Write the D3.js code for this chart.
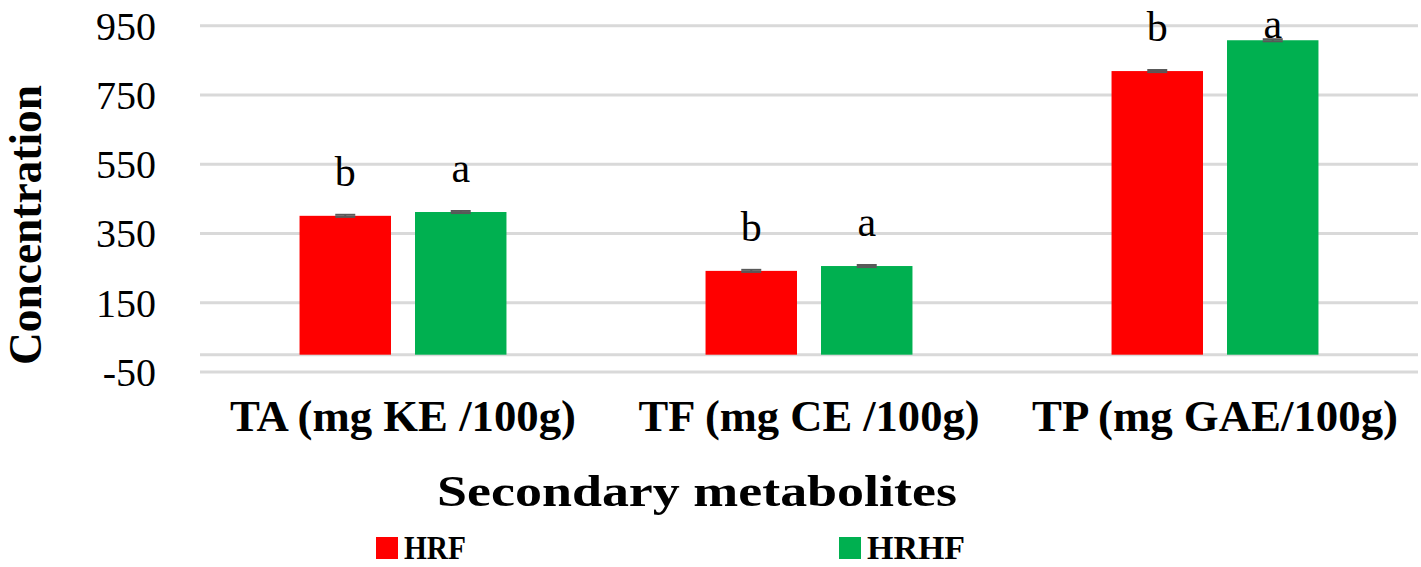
<!DOCTYPE html>
<html>
<head>
<meta charset="utf-8">
<script src="https://cdn.jsdelivr.net/npm/d3@7"></script>
<style>
  body { margin: 0; background: #fff; }
  text { font-family: "Liberation Serif", "Times New Roman", serif; fill: #000; }
</style>
</head>
<body>
<svg width="1421" height="567"></svg>
<script>
const categories = ["TA (mg KE /100g)", "TF (mg CE /100g)", "TP (mg GAE/100g)"]
const series = ["HRF", "HRHF"]
const hrf = [401, 242, 819]
const hrhf = [412, 256, 908]
const hrfErr = [3, 3, 3]
const hrhfErr = [3, 3, 3]
const hrfLetters = ["b", "b", "b"]
const hrhfLetters = ["a", "a", "a"]
const yTicks = [-50, 150, 350, 550, 750, 950]
const colors = ["#FF0000", "#00B050"]

const svg = d3.select("svg")
const width = +svg.attr("width")
const height = +svg.attr("height")

const plotLeft = 200, plotRight = 1418, plotTop = 25.7, plotBottom = 372

// rows for the bars, built from the arrays above
const rows = categories.map((c, i) => ({
  cat: c,
  vals: [
    { s: series[0], v: hrf[i], e: hrfErr[i], l: hrfLetters[i] },
    { s: series[1], v: hrhf[i], e: hrhfErr[i], l: hrhfLetters[i] }
  ]
}))

const y = d3.scaleLinear().domain([-50, 950]).range([plotBottom, plotTop])
const x0 = d3.scaleBand().domain(categories).range([plotLeft, plotRight]).padding(0)
const x1 = d3.scaleBand().domain(series).range([0, x0.bandwidth()])
  .paddingInner(0.208).paddingOuter(0.862)
const color = d3.scaleOrdinal().domain(series).range(colors)

// gridlines
svg.append("g")
  .selectAll("line")
  .data(yTicks.concat([0]))
  .join("line")
  .attr("x1", plotLeft).attr("x2", plotRight)
  .attr("y1", d => y(d)).attr("y2", d => y(d))
  .attr("stroke", "#D9D9D9")
  .attr("stroke-width", 3)

// y tick labels
svg.append("g")
  .selectAll("text")
  .data(yTicks)
  .join("text")
  .attr("x", 156)
  .attr("y", d => y(d))
  .attr("dy", "0.35em")
  .attr("text-anchor", "end")
  .style("font-size", "40px")
  .text(d => d)

const groups = svg.append("g")
  .selectAll("g")
  .data(rows)
  .join("g")
  .attr("transform", d => `translate(${x0(d.cat)},0)`)

groups.selectAll("rect")
  .data(d => d.vals)
  .join("rect")
  .attr("x", d => x1(d.s))
  .attr("width", x1.bandwidth())
  .attr("y", d => y(d.v))
  .attr("height", d => y(0) - y(d.v))
  .attr("fill", d => color(d.s))

// error bars (tiny)
const err = groups.selectAll("g.err")
  .data(d => d.vals)
  .join("g")
  .attr("class", "err")
  .attr("transform", d => `translate(${x1(d.s) + x1.bandwidth() / 2},0)`)

err.append("line")
  .attr("x1", 0).attr("x2", 0)
  .attr("y1", d => y(d.v - d.e)).attr("y2", d => y(d.v + d.e))
  .attr("stroke", "#595959").attr("stroke-width", 2)
err.append("line")
  .attr("x1", -10).attr("x2", 10)
  .attr("y1", d => y(d.v + d.e)).attr("y2", d => y(d.v + d.e))
  .attr("stroke", "#595959").attr("stroke-width", 2)
err.append("line")
  .attr("x1", -10).attr("x2", 10)
  .attr("y1", d => y(d.v - d.e)).attr("y2", d => y(d.v - d.e))
  .attr("stroke", "#595959").attr("stroke-width", 2)

// significance letters
groups.selectAll("text.sig")
  .data(d => d.vals)
  .join("text")
  .attr("class", "sig")
  .attr("x", d => x1(d.s) + x1.bandwidth() / 2)
  .attr("y", d => Math.max(y(d.v + d.e) - 29, 38))
  .attr("text-anchor", "middle")
  .style("font-size", "42px")
  .text(d => d.l)

// category labels
const catWidths = [346, 341, 366]
svg.append("g")
  .selectAll("text")
  .data(categories)
  .join("text")
  .attr("x", d => x0(d) + x0.bandwidth() / 2)
  .attr("y", 431)
  .attr("text-anchor", "middle")
  .attr("textLength", (d, i) => catWidths[i])
  .attr("lengthAdjust", "spacingAndGlyphs")
  .style("font-size", "44px")
  .style("font-weight", "bold")
  .text(d => d)

// axis titles
svg.append("text")
  .attr("x", 697)
  .attr("y", 506)
  .attr("text-anchor", "middle")
  .attr("textLength", 520)
  .attr("lengthAdjust", "spacingAndGlyphs")
  .style("font-size", "45px")
  .style("font-weight", "bold")
  .text("Secondary metabolites")

svg.append("text")
  .attr("transform", "translate(41,225) rotate(-90)")
  .attr("text-anchor", "middle")
  .attr("textLength", 280)
  .attr("lengthAdjust", "spacingAndGlyphs")
  .style("font-size", "46px")
  .style("font-weight", "bold")
  .text("Concentration")

// legend
const legendX = [376, 839]
const legendW = [62, 98]
const legend = svg.append("g")
  .selectAll("g")
  .data(series)
  .join("g")
  .attr("transform", (d, i) => `translate(${legendX[i]},537)`)

legend.append("rect")
  .attr("width", 22).attr("height", 22)
  .attr("fill", d => color(d))

legend.append("text")
  .attr("x", 28)
  .attr("y", 22)
  .attr("textLength", (d, i) => legendW[i])
  .attr("lengthAdjust", "spacingAndGlyphs")
  .style("font-size", "33px")
  .style("font-weight", "bold")
  .text(d => d)
</script>
</body>
</html>
